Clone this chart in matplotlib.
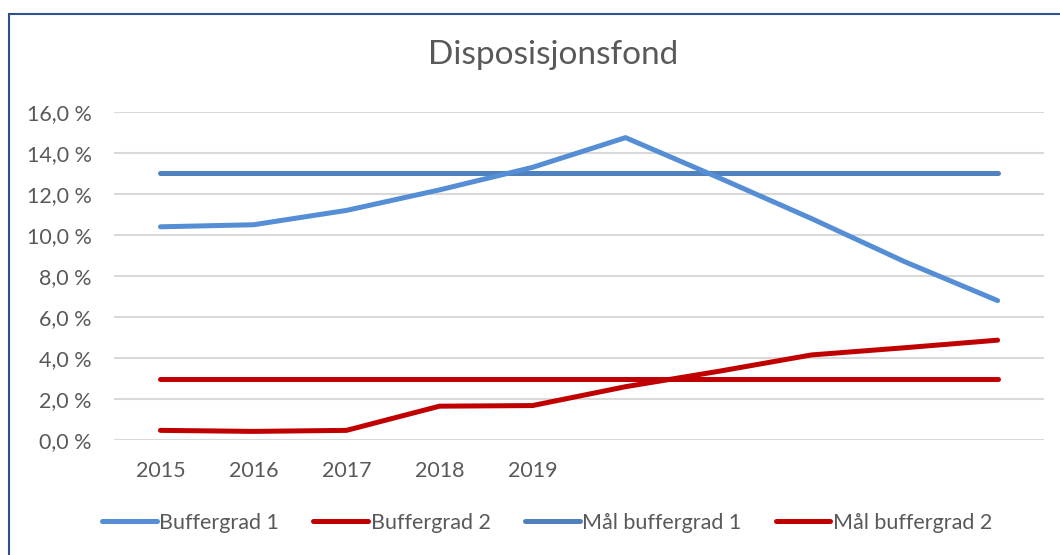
import matplotlib
matplotlib.use('Agg')
import matplotlib.pyplot as plt
from matplotlib.patches import Rectangle
from matplotlib.ticker import FuncFormatter

plt.rcParams['font.family'] = ['Lato', 'DejaVu Sans']

# data
years = ['2015', '2016', '2017', '2018', '2019', '', '', '', '', '']
buffergrad_1 = [10.4, 10.5, 11.2, 12.2, 13.3, 14.75, 12.8, 10.8, 8.7, 6.8]
buffergrad_2 = [0.47, 0.42, 0.47, 1.65, 1.68, 2.6, 3.35, 4.15, 4.5, 4.87]
maal_buffergrad_1 = [13.0] * 10
maal_buffergrad_2 = [3.0] * 10

TEXT = '#595959'
GRID = '#D9D9D9'

fig = plt.figure(figsize=(10.6, 5.55), dpi=100)
ax = fig.add_axes([0.1075, 0.2072, 0.8775, 0.591])

x = range(len(years))
ax.plot(x, buffergrad_1, color='#558ED5', lw=3.6, solid_capstyle='round',
        solid_joinstyle='round', label='Buffergrad 1', zorder=3)
ax.plot(x, buffergrad_2, color='#C00000', lw=3.6, solid_capstyle='round',
        solid_joinstyle='round', label='Buffergrad 2', zorder=3)
ax.plot(x, maal_buffergrad_1, color='#4F81BD', lw=3.6, solid_capstyle='round',
        label='Mål buffergrad 1', zorder=2)
ax.plot(x, maal_buffergrad_2, color='#C00000', lw=3.6, solid_capstyle='round',
        label='Mål buffergrad 2', zorder=2)

ax.set_xlim(-0.5, len(years) - 0.5)
ax.set_ylim(0, 16)
ax.set_yticks(range(0, 17, 2))
ax.yaxis.set_major_formatter(FuncFormatter(lambda v, p: f'{v:.1f} %'.replace('.', ',')))
ax.set_xticks(list(x))
ax.set_xticklabels(years)

ax.grid(axis='y', color=GRID, lw=1.5)
ax.set_axisbelow(True)
for s in ax.spines.values():
    s.set_visible(False)
ax.tick_params(axis='both', length=0, labelsize=15.5, labelcolor=TEXT)
ax.tick_params(axis='y', pad=16)
ax.tick_params(axis='x', pad=15)

fig.text(553 / 1060, 1 - 55 / 555, 'Disposisjonsfond', ha='center', va='center',
         fontsize=24, color=TEXT)

fig.legend(loc='center', bbox_to_anchor=(547 / 1060, 1 - 523 / 555), ncol=4,
           frameon=False, fontsize=15.5, handlelength=2.55, handletextpad=0.1,
           columnspacing=1.6, labelcolor=TEXT)

# chart border (left and top visible, rest cut off)
fig.patches.append(Rectangle((9 / 1060, -0.05), 1.2, 1 - 14 / 555 + 0.05,
                             transform=fig.transFigure, fill=False,
                             edgecolor='#2F528F', lw=1.5))

fig.savefig('out.png', dpi=100)
